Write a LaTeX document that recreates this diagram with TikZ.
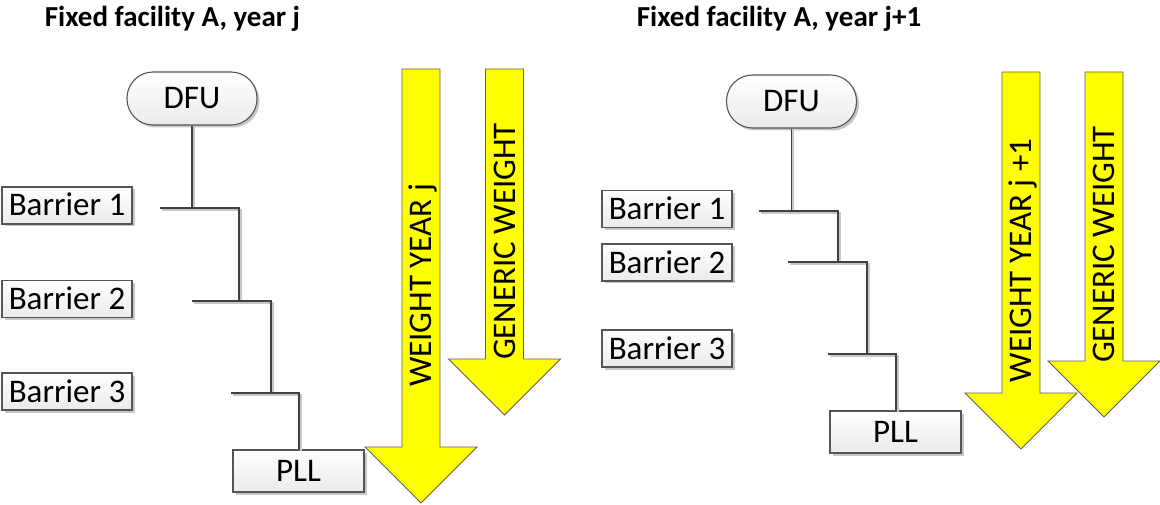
\documentclass[tikz,border=0pt]{standalone}
\usepackage{fontspec}
\setmainfont{Carlito}
\usetikzlibrary{shadows}

\definecolor{wirecol}{HTML}{404040}
\definecolor{edgecol}{HTML}{555555}
\definecolor{arrowedge}{HTML}{5F5F5F}
\definecolor{arrowfill}{HTML}{FFFF00}

\tikzset{
  lbl/.style={font=\fontsize{33}{38}\selectfont, text height=21pt, text depth=0pt},
  boxed/.style={lbl, draw=edgecol, line width=1.1pt, top color=white, bottom color=black!8,
    inner sep=0pt, drop shadow={shadow xshift=2.5pt, shadow yshift=-2.5pt, fill=black!22, opacity=1}},
  barrier/.style={boxed, minimum width=130pt, minimum height=37pt},
  terminal/.style={boxed, minimum width=130pt, minimum height=53pt, rounded corners=26pt},
  endbox/.style={boxed, minimum width=131pt, minimum height=42pt},
  wire/.style={draw=wirecol, line width=1.8pt,
    preaction={draw=black!22, line width=1.8pt, transform canvas={xshift=1.8pt, yshift=-1.8pt}}},
  yarrow/.style={draw=arrowedge, line width=0.9pt, fill=arrowfill, line join=miter},
  arrowtext/.style={lbl, rotate=90, inner sep=0pt},
  heading/.style={font=\fontsize{29}{34}\selectfont\bfseries, anchor=base, inner sep=0pt}
}

% downward block arrow: centre x, top y, head base y
\newcommand\blockdown[3]{%
  \path[yarrow] (#1-19,#2) -- (#1+19,#2) -- (#1+19,#3) -- (#1+56,#3)
     -- (#1,#3+56) -- (#1-56,#3) -- (#1-19,#3) -- cycle;}

\begin{document}
\begin{tikzpicture}[x=1pt,y=-1pt]
\useasboundingbox (0,0) rectangle (1160,505);

% ---------- year j ----------
\node[heading] (titleL) at (172.5,27) {Fixed facility A, year j};

\node[terminal] (dfuL) at (192,98.5) {DFU};
\node[barrier] (bar1L) at (67,205.5) {Barrier 1};
\node[barrier] (bar2L) at (67,299) {Barrier 2};
\node[barrier] (bar3L) at (67,391.5) {Barrier 3};
\node[endbox] (pllL) at (298.5,471) {PLL};

\coordinate (l1a) at (160,208);
\coordinate (l1b) at (239,208);
\coordinate (l2a) at (192,301);
\coordinate (l2b) at (271,301);
\coordinate (l3a) at (231,393);
\coordinate (l3b) at (299,393);

\draw[wire] (dfuL.south) -- (dfuL.south |- l1a);
\draw[wire] (l1a) -- (l1b) -- (l1b |- l2a);
\draw[wire] (l2a) -- (l2b) -- (l2b |- l3a);
\draw[wire] (l3a) -- (l3b) -- (l3b |- pllL.north);

\blockdown{421}{69}{447}
\blockdown{504.5}{69}{359}
\node[arrowtext] (wyL) at (421,285.5) {WEIGHT YEAR j};
\node[arrowtext] (gwL) at (504.5,241.5) {GENERIC WEIGHT};

% ---------- year j+1 ----------
\node[heading] (titleR) at (779,27) {Fixed facility A, year j+1};

\node[terminal] (dfuR) at (791.5,101.5) {DFU};
\node[barrier] (bar1R) at (667,209) {Barrier 1};
\node[barrier] (bar2R) at (667,262.5) {Barrier 2};
\node[barrier] (bar3R) at (667,348.5) {Barrier 3};
\node[endbox] (pllR) at (895.5,432) {PLL};

\coordinate (r1a) at (759,211);
\coordinate (r1b) at (838,211);
\coordinate (r2a) at (788,262);
\coordinate (r2b) at (867,262);
\coordinate (r3a) at (828,354);
\coordinate (r3b) at (896,354);

\draw[wire] (dfuR.south) -- (dfuR.south |- r1a);
\draw[wire] (r1a) -- (r1b) -- (r1b |- r2a);
\draw[wire] (r2a) -- (r2b) -- (r2b |- r3a);
\draw[wire] (r3a) -- (r3b) -- (r3b |- pllR.north);

\blockdown{1021}{72}{393}
\blockdown{1104}{72}{361}
\node[arrowtext] (wyR) at (1021,260.5) {WEIGHT YEAR j +1};
\node[arrowtext] (gwR) at (1104,244.5) {GENERIC WEIGHT};
\end{tikzpicture}
\end{document}
